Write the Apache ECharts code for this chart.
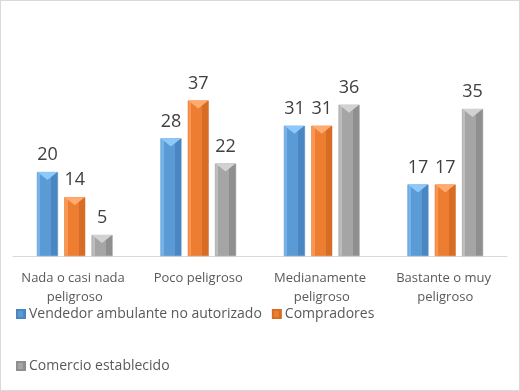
<!DOCTYPE html>
<html><head><meta charset="utf-8">
<script src="https://cdn.jsdelivr.net/npm/echarts@6/dist/echarts.min.js"></script>
<style>html,body{margin:0;padding:0;background:#fff}#c{width:518px;height:389px;border:1px solid #d9d9d9}</style>
</head><body><div id="c"></div>
<script>
const categories = ['Nada o casi nada peligroso', 'Poco peligroso', 'Medianamente peligroso', 'Bastante o muy peligroso'];
const seriesNames = ['Vendedor ambulante no autorizado', 'Compradores', 'Comercio establecido'];
const vendedor = [20, 28, 31, 17];
const compradores = [14, 37, 31, 17];
const comercio = [5, 22, 36, 35];

const palettes = [
  ['#74b3ec', '#5b9bd5', '#4a86c2', '#8cc8fa'],
  ['#fb9550', '#ed7d31', '#d76c24', '#ffab70'],
  ['#bdbdbd', '#a5a5a5', '#8f8f8f', '#d2d2d2']
];
function grad(p) {
  return new echarts.graphic.LinearGradient(0, 0, 1, 0, [
    {offset: 0, color: p[0]}, {offset: 0.16, color: p[0]}, {offset: 0.16, color: p[1]},
    {offset: 0.68, color: p[1]}, {offset: 0.68, color: p[2]}, {offset: 1, color: p[2]}
  ]);
}
const data = [vendedor, compradores, comercio];
const font = '"Open Sans", "Liberation Sans", sans-serif';
const chart = echarts.init(document.getElementById('c'));
const bars = data.map((d, i) => ({
  name: seriesNames[i], type: 'bar', data: d, barWidth: 21, barGap: '30%',
  itemStyle: {color: grad(palettes[i]), borderColor: palettes[i][2], borderWidth: 0.5},
  label: {show: true, position: 'top', distance: 8, fontFamily: font, fontSize: 18, color: '#404040'}
}));
const caps = data.map((d, i) => ({
  name: seriesNames[i] + ' cap', type: 'pictorialBar', data: d, barWidth: 21, barGap: '30%',
  symbol: 'path://M0,0 L20,0 L10,8 Z', symbolSize: [20, 8], symbolPosition: 'end',
  symbolOffset: [0, 0], z: 3, silent: true,
  itemStyle: {color: palettes[i][3]}
}));
chart.setOption({
  animation: false,
  grid: {left: 12, right: 12, top: 87, bottom: 134},
  legend: [
    {data: [seriesNames[0], seriesNames[1]], left: 10, top: 301, itemWidth: 8, itemHeight: 8, itemGap: 10,
     icon: 'rect', textStyle: {fontFamily: font, fontSize: 14, color: '#595959', padding: [0, 0, 0, -1]}},
    {data: [seriesNames[2]], left: 10, top: 353, itemWidth: 8, itemHeight: 8,
     icon: 'rect', textStyle: {fontFamily: font, fontSize: 14, color: '#595959', padding: [0, 0, 0, -1]}}
  ],
  xAxis: {
    type: 'category', data: categories,
    axisLine: {lineStyle: {color: '#d9d9d9'}}, axisTick: {show: false},
    axisLabel: {interval: 0, margin: 13, width: 118, overflow: 'break', lineHeight: 19,
      fontFamily: font, fontSize: 13, color: '#595959'}
  },
  yAxis: {type: 'value', min: 0, max: 40, show: false, splitLine: {show: false}},
  series: bars.concat(caps)
});
</script></body></html>
